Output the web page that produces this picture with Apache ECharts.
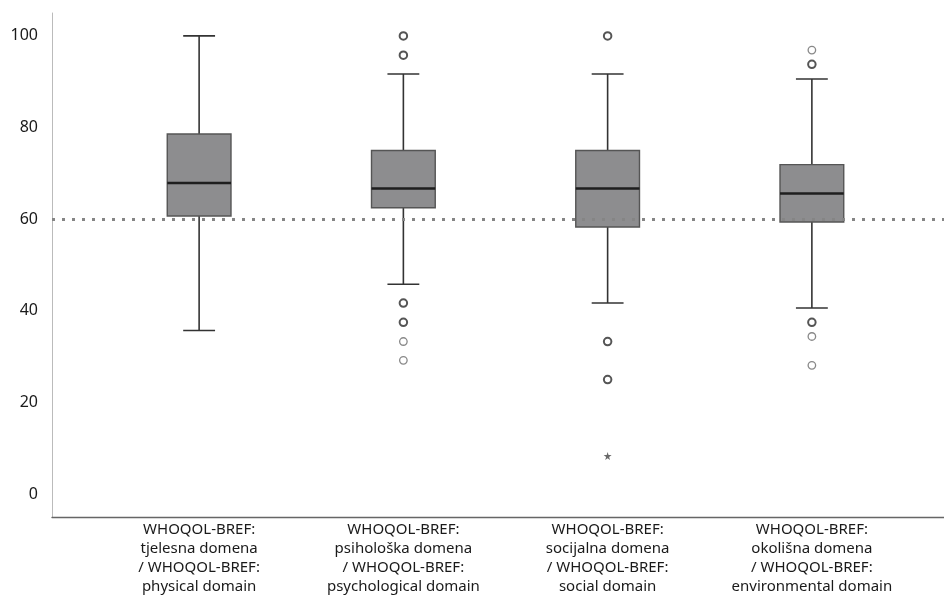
<!DOCTYPE html>
<html>
<head>
<meta charset="utf-8">
<script src="https://cdn.jsdelivr.net/npm/echarts@6/dist/echarts.min.js"></script>
<style>
  html, body { margin: 0; padding: 0; background: #fff; }
  #chart { width: 944px; height: 605px; }
</style>
</head>
<body>
<div id="chart"></div>
<script>
// WHOQOL-BREF domain scores (0-100 scale)
const categories = [
  'WHOQOL-BREF:\ntjelesna domena\n/ WHOQOL-BREF:\nphysical domain',
  'WHOQOL-BREF:\npsihološka domena\n/ WHOQOL-BREF:\npsychological domain',
  'WHOQOL-BREF:\nsocijalna domena\n/ WHOQOL-BREF:\nsocial domain',
  'WHOQOL-BREF:\nokolišna domena\n/ WHOQOL-BREF:\nenvironmental domain'
];

// [lower whisker, Q1, median, Q3, upper whisker]
const boxStats = [
  [35.7, 60.7, 67.9, 78.6, 100],
  [45.8, 62.5, 66.7, 75.0, 91.7],
  [41.7, 58.3, 66.7, 75.0, 91.7],
  [40.6, 59.4, 65.6, 71.9, 90.6]
];

// outliers: [category index, value]; several cases share a value in the darker ones
const outliersMany = [
  [1, 100], [1, 95.8], [1, 41.7], [1, 37.5],
  [2, 100], [2, 33.3], [2, 25.0],
  [3, 93.8], [3, 37.5]
];
const outliersSingle = [
  [1, 33.3], [1, 29.2],
  [3, 96.9], [3, 34.4], [3, 28.1]
];
// extreme values
const extremes = [
  [2, 8.3]
];

const yTicks = [0, 20, 40, 60, 80, 100];
const referenceLine = 60;

const boxData = boxStats.map((s, i) => [i].concat(s));

const chart = echarts.init(document.getElementById('chart'), null, { renderer: 'canvas' });

const fontFamily = '"Noto Sans", "Open Sans", sans-serif';

function renderBox(params, api) {
  const idx = api.value(0);
  const lo = api.coord([idx, api.value(1)]);
  const q1 = api.coord([idx, api.value(2)]);
  const md = api.coord([idx, api.value(3)]);
  const q3 = api.coord([idx, api.value(4)]);
  const hi = api.coord([idx, api.value(5)]);
  const band = api.size([1, 0])[0];
  const half = band * 0.156;
  const cap = half / 2;
  const cx = lo[0];
  const whisker = { stroke: '#333', lineWidth: 1.6 };
  return {
    type: 'group',
    children: [
      { type: 'line', shape: { x1: cx, y1: hi[1], x2: cx, y2: q3[1] }, style: whisker },
      { type: 'line', shape: { x1: cx, y1: q1[1], x2: cx, y2: lo[1] }, style: whisker },
      { type: 'line', shape: { x1: cx - cap, y1: hi[1], x2: cx + cap, y2: hi[1] }, style: whisker },
      { type: 'line', shape: { x1: cx - cap, y1: lo[1], x2: cx + cap, y2: lo[1] }, style: whisker },
      {
        type: 'rect',
        shape: { x: cx - half, y: q3[1], width: half * 2, height: q1[1] - q3[1] },
        style: { fill: '#8d8d8f', stroke: '#555', lineWidth: 1.4 }
      },
      { type: 'line', shape: { x1: cx - half, y1: md[1], x2: cx + half, y2: md[1] }, style: { stroke: '#1e1e1e', lineWidth: 2.6 } }
    ]
  };
}

const option = {
  animation: false,
  backgroundColor: '#fff',
  grid: [
    { left: 97, right: 30, top: 13, bottom: 88 },
    { left: 52, right: 0, top: 13, bottom: 88 }
  ],
  xAxis: [
    {
      type: 'category', gridIndex: 0, data: categories, boundaryGap: true,
      axisLine: { show: false }, axisTick: { show: false },
      axisLabel: {
        interval: 0, margin: 3, color: '#1a1a1a', fontSize: 15, lineHeight: 19,
        fontFamily: fontFamily, align: 'center'
      }
    },
    {
      type: 'value', gridIndex: 1, min: 0, max: 1,
      axisLine: { show: true, onZero: false, lineStyle: { color: '#666', width: 1.4 } },
      axisTick: { show: false }, axisLabel: { show: false }, splitLine: { show: false }
    }
  ],
  yAxis: [
    {
      type: 'value', gridIndex: 0, min: -5, max: 105,
      axisLine: { show: false }, axisTick: { show: false },
      axisLabel: { show: false }, splitLine: { show: false }
    },
    {
      type: 'value', gridIndex: 1, min: -5, max: 105,
      axisLine: { show: true, onZero: false, lineStyle: { color: '#bbb', width: 1 } },
      axisTick: { show: false }, splitLine: { show: false },
      axisLabel: {
        customValues: yTicks, margin: 14, color: '#1a1a1a', fontSize: 16, fontFamily: fontFamily
      }
    }
  ],
  series: [
    {
      type: 'line', xAxisIndex: 1, yAxisIndex: 1, data: [], silent: true,
      markLine: {
        silent: true, symbol: 'none', label: { show: false },
        lineStyle: { color: '#858585', width: 3, type: [3, 7] },
        data: [{ yAxis: referenceLine }]
      }
    },
    {
      type: 'custom', xAxisIndex: 0, yAxisIndex: 0, data: boxData,
      renderItem: renderBox, encode: { x: 0, y: [1, 2, 3, 4, 5] }, z: 3
    },
    {
      type: 'scatter', xAxisIndex: 0, yAxisIndex: 0, data: outliersMany,
      symbol: 'circle', symbolSize: 7.5,
      itemStyle: { color: '#fff', borderColor: '#2a2a2a', borderWidth: 2 }, z: 4
    },
    {
      type: 'scatter', xAxisIndex: 0, yAxisIndex: 0, data: outliersSingle,
      symbol: 'circle', symbolSize: 7.5,
      itemStyle: { color: '#fff', borderColor: '#6a6a6a', borderWidth: 1.3 }, z: 4
    },
    {
      type: 'scatter', xAxisIndex: 0, yAxisIndex: 0, data: extremes,
      symbol: 'path://M50,0 L61,35 L98,35 L68,57 L79,92 L50,70 L21,92 L32,57 L2,35 L39,35 Z',
      symbolSize: 8,
      itemStyle: { color: '#444' }, z: 4
    }
  ]
};

chart.setOption(option);
</script>
</body>
</html>
